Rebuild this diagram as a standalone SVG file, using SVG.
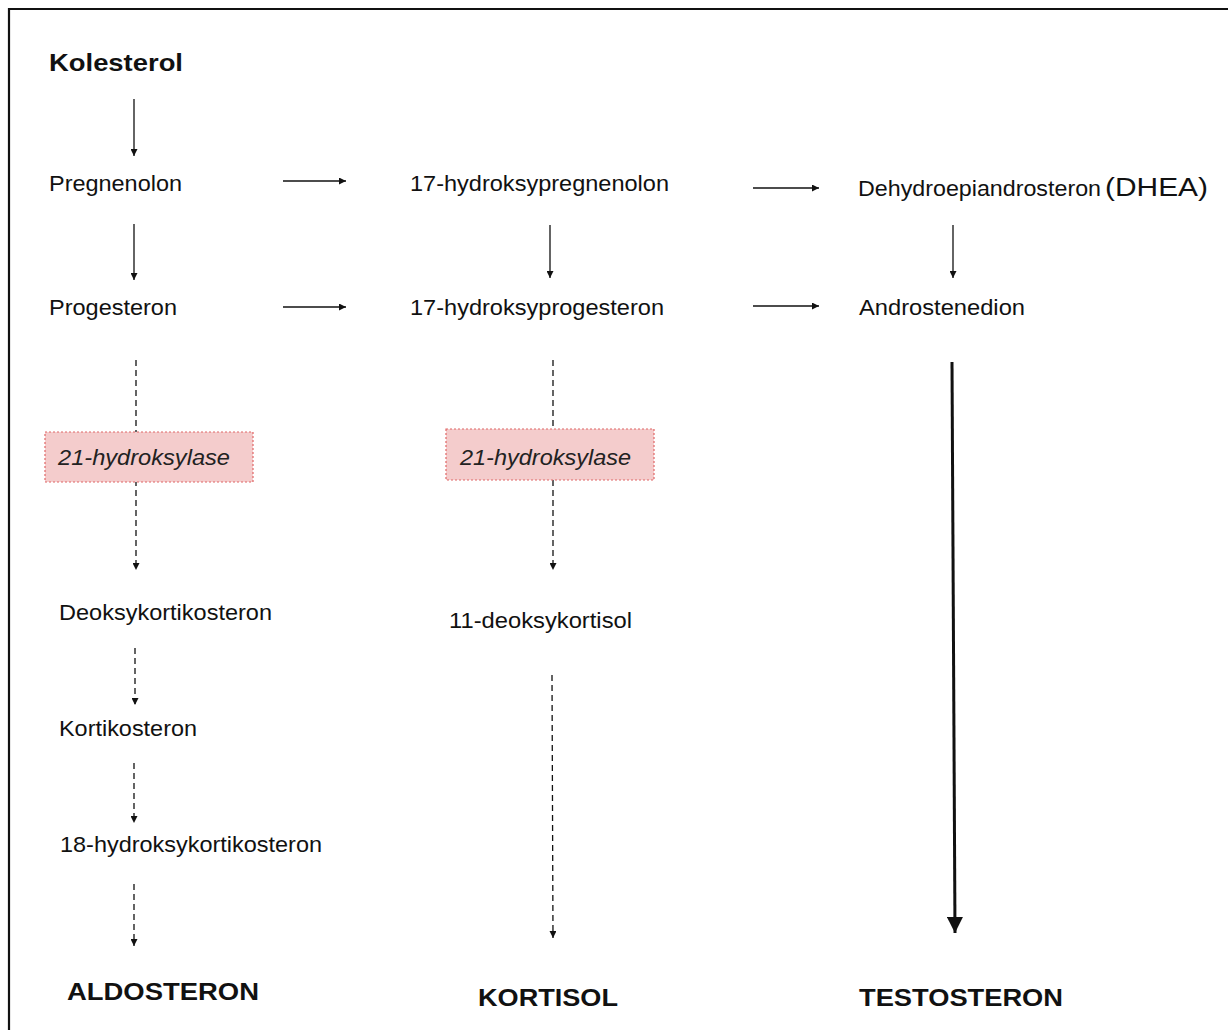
<svg xmlns="http://www.w3.org/2000/svg" width="1228" height="1030" viewBox="0 0 1228 1030">
<style>
text{font-family:"Liberation Sans",Arial,sans-serif;fill:#111}
.r{font-size:22px}
.b{font-size:24px;font-weight:bold}
.i{font-size:22px;font-style:italic;fill:#222}
.s{stroke:#111;stroke-width:1.3;fill:none}
.d{stroke:#111;stroke-width:1.3;fill:none;stroke-dasharray:6 4}
.enz{fill:#f4cccc;stroke:#e06666;stroke-width:1.2;stroke-dasharray:2 2}
</style>
<defs>
<marker id="ah" viewBox="0 0 10 10" refX="10" refY="5" markerWidth="8" markerHeight="7" markerUnits="userSpaceOnUse" orient="auto"><path d="M0,0 L10,5 L0,10 z" fill="#111"/></marker>
<marker id="ahb" viewBox="0 0 10 10" refX="10" refY="5" markerWidth="22" markerHeight="16" markerUnits="userSpaceOnUse" orient="auto"><path d="M0,0 L10,5 L0,10 z" fill="#111"/></marker>
</defs>
<rect width="1228" height="1030" fill="#fff"/>
<path d="M9,1030 V9 H1228" stroke="#111" stroke-width="2.2" fill="none"/>
<g id="connectors">
<line class="s" x1="134" y1="99" x2="134" y2="156" marker-end="url(#ah)"/>
<line class="s" x1="134" y1="224" x2="134" y2="280" marker-end="url(#ah)"/>
<line class="s" x1="283" y1="181" x2="346" y2="181" marker-end="url(#ah)"/>
<line class="s" x1="283" y1="307" x2="346" y2="307" marker-end="url(#ah)"/>
<line class="s" x1="550" y1="225" x2="550" y2="278" marker-end="url(#ah)"/>
<line class="s" x1="753" y1="188" x2="819" y2="188" marker-end="url(#ah)"/>
<line class="s" x1="753" y1="306" x2="819" y2="306" marker-end="url(#ah)"/>
<line class="s" x1="953" y1="225" x2="953" y2="278" marker-end="url(#ah)"/>
<line class="d" x1="136" y1="360" x2="136" y2="570" marker-end="url(#ah)"/>
<line class="d" x1="553" y1="360" x2="553" y2="570" marker-end="url(#ah)"/>
<line class="d" x1="135" y1="648" x2="135" y2="705" marker-end="url(#ah)"/>
<line class="d" x1="134" y1="763" x2="134" y2="823" marker-end="url(#ah)"/>
<line class="d" x1="134" y1="884" x2="134" y2="946" marker-end="url(#ah)"/>
<line class="d" x1="552" y1="675" x2="553" y2="938" marker-end="url(#ah)"/>
<line x1="952" y1="362" x2="955" y2="933" stroke="#111" stroke-width="3" marker-end="url(#ahb)"/>
</g>
<g id="n-kolesterol"><text class="b" x="49" y="71" textLength="134" lengthAdjust="spacingAndGlyphs">Kolesterol</text></g>
<g id="n-pregnenolon"><text class="r" x="49" y="191" textLength="133" lengthAdjust="spacingAndGlyphs">Pregnenolon</text></g>
<g id="n-progesteron"><text class="r" x="49" y="315" textLength="128" lengthAdjust="spacingAndGlyphs">Progesteron</text></g>
<g id="n-17ohpreg"><text class="r" x="410" y="191" textLength="259" lengthAdjust="spacingAndGlyphs">17-hydroksypregnenolon</text></g>
<g id="n-17ohprog"><text class="r" x="410" y="315" textLength="254" lengthAdjust="spacingAndGlyphs">17-hydroksyprogesteron</text></g>
<g id="n-dhea"><text class="r" x="858" y="196"><tspan textLength="243" lengthAdjust="spacingAndGlyphs">Dehydroepiandrosteron</tspan><tspan x="1105" font-size="25" textLength="103" lengthAdjust="spacingAndGlyphs">(DHEA)</tspan></text></g>
<g id="n-androstenedion"><text class="r" x="859" y="315" textLength="166" lengthAdjust="spacingAndGlyphs">Androstenedion</text></g>
<g id="n-enz1"><rect class="enz" x="45" y="432" width="208" height="50"/><text class="i" x="58" y="465" textLength="172" lengthAdjust="spacingAndGlyphs">21-hydroksylase</text></g>
<g id="n-enz2"><rect class="enz" x="446" y="429" width="208" height="51"/><text class="i" x="460" y="465" textLength="171" lengthAdjust="spacingAndGlyphs">21-hydroksylase</text></g>
<g id="n-deoksykortikosteron"><text class="r" x="59" y="620" textLength="213" lengthAdjust="spacingAndGlyphs">Deoksykortikosteron</text></g>
<g id="n-11deoksykortisol"><text class="r" x="449" y="628" textLength="183" lengthAdjust="spacingAndGlyphs">11-deoksykortisol</text></g>
<g id="n-kortikosteron"><text class="r" x="59" y="736" textLength="138" lengthAdjust="spacingAndGlyphs">Kortikosteron</text></g>
<g id="n-18ohkort"><text class="r" x="60" y="852" textLength="262" lengthAdjust="spacingAndGlyphs">18-hydroksykortikosteron</text></g>
<g id="n-aldosteron"><text class="b" x="67" y="1000" font-size="26" textLength="192" lengthAdjust="spacingAndGlyphs">ALDOSTERON</text></g>
<g id="n-kortisol"><text class="b" x="478" y="1006" font-size="26" textLength="140" lengthAdjust="spacingAndGlyphs">KORTISOL</text></g>
<g id="n-testosteron"><text class="b" x="859" y="1006" font-size="26" textLength="204" lengthAdjust="spacingAndGlyphs">TESTOSTERON</text></g>
</svg>
